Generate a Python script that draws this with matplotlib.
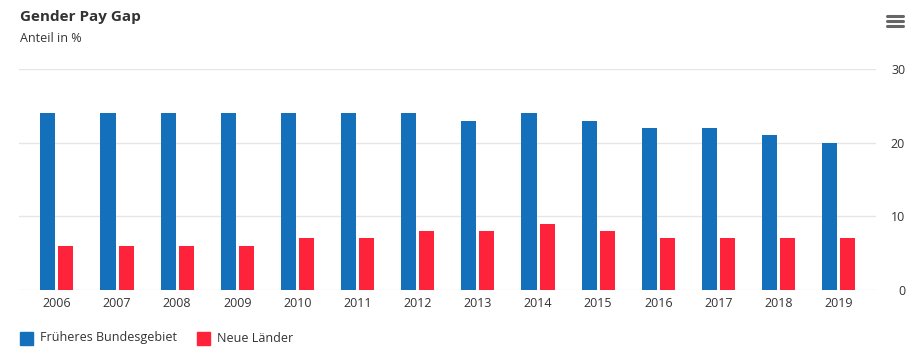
import numpy as np
import matplotlib
matplotlib.use("Agg")
import matplotlib.pyplot as plt
from matplotlib.patches import Rectangle

# data
years = ["2006", "2007", "2008", "2009", "2010", "2011", "2012",
         "2013", "2014", "2015", "2016", "2017", "2018", "2019"]
frueheres_bg = [24, 24, 24, 24, 24, 24, 24, 23, 24, 23, 22, 22, 21, 20]
neue_laender = [6, 6, 6, 6, 7, 7, 8, 8, 9, 8, 7, 7, 7, 7]
y_ticks = [0, 10, 20, 30]

BLUE = "#1470ba"
RED = "#fe233a"
TXT = "#333333"

plt.rcParams['font.family'] = ['Open Sans', 'DejaVu Sans']

W, H = 919, 356
fig = plt.figure(figsize=(W / 100, H / 100), dpi=100)
ax = fig.add_axes([19 / W, (H - 290) / H, (876 - 19) / W, (290 - 69) / H])

x = np.arange(len(years))
bw = 0.25
ax.bar(x - 0.15, frueheres_bg, width=bw, color=BLUE, zorder=3)
ax.bar(x + 0.15, neue_laender, width=bw, color=RED, zorder=3)

ax.set_xlim(-0.63, 13.62)
ax.set_ylim(0, 30)
ax.set_xticks(x)
ax.set_xticklabels(years)
ax.set_yticks(y_ticks)
ax.yaxis.tick_right()
for lbl in ax.get_yticklabels():
    lbl.set_horizontalalignment('right')
ax.tick_params(axis='y', length=0, pad=21, labelsize=9, labelcolor=TXT)
ax.tick_params(axis='x', length=0, pad=5, labelsize=9, labelcolor=TXT)
ax.grid(axis='y', color='#e6e6e6', linewidth=1, zorder=0)
for s in ax.spines.values():
    s.set_visible(False)

# title
fig.text(20 / W, 1 - 17 / H, "Gender Pay Gap", fontsize=11, fontweight='bold',
         color=TXT, va='center', ha='left')
fig.text(20 / W, 1 - 39 / H, "Anteil in %", fontsize=9, color=TXT, va='center', ha='left')

# legend
ly = 1 - 338 / H
for xs, col, txt in [(20, BLUE, "Früheres Bundesgebiet"), (197, RED, "Neue Länder")]:
    fig.add_artist(Rectangle((xs / W, ly - 6.5 / H), 13 / W, 13 / H, color=col,
                             transform=fig.transFigure))
    fig.text((xs + 20) / W, ly, txt, fontsize=9, color=TXT, va='center', ha='left')

# menu icon
for yy in [16, 21, 26]:
    fig.add_artist(plt.Line2D([887 / W, 903 / W], [1 - yy / H, 1 - yy / H],
                              color='#666666', linewidth=2.2, solid_capstyle='round',
                              transform=fig.transFigure))

fig.savefig("out.png", dpi=100, facecolor='white')
